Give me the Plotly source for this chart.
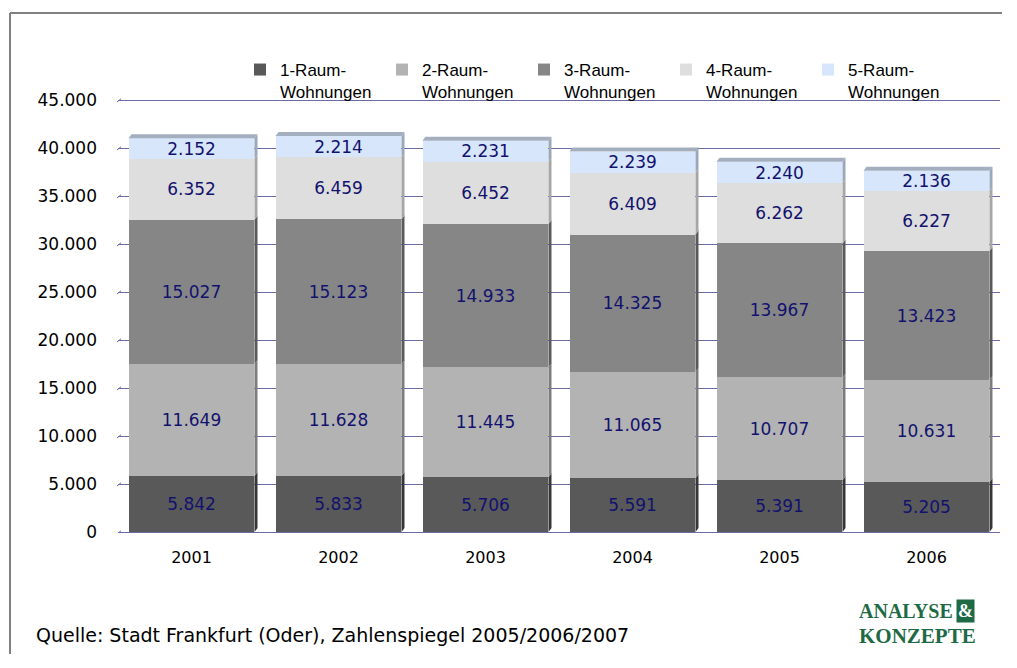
import plotly.graph_objects as go

# ---- data ----
years = ["2001", "2002", "2003", "2004", "2005", "2006"]
series_names = ["1-Raum-<br>Wohnungen", "2-Raum-<br>Wohnungen", "3-Raum-<br>Wohnungen",
                "4-Raum-<br>Wohnungen", "5-Raum-<br>Wohnungen"]
raum1 = [5842, 5833, 5706, 5591, 5391, 5205]
raum2 = [11649, 11628, 11445, 11065, 10707, 10631]
raum3 = [15027, 15123, 14933, 14325, 13967, 13423]
raum4 = [6352, 6459, 6452, 6409, 6262, 6227]
raum5 = [2152, 2214, 2231, 2239, 2240, 2136]
series_values = [raum1, raum2, raum3, raum4, raum5]
y_ticks = [0, 5000, 10000, 15000, 20000, 25000, 30000, 35000, 40000, 45000]
source_text = "Quelle: Stadt Frankfurt (Oder), Zahlenspiegel 2005/2006/2007"

# ---- styles ----
OFF = 8  # page body margin
PAGE_W, PAGE_H = 1017, 668
W, H = PAGE_W - 2 * OFF - 4, PAGE_H - 2 * OFF - 4
# plot box in page pixels (a little taller than 0..45000 so the top gridline shows)
PX_L, PX_R, PX_T, PX_B = 118, 1000, 97, 532
L, T = PX_L - OFF, PX_T - OFF
R = W - (PX_R - OFF)
B = H - (PX_B - OFF)
face_colors = ["#595959", "#b3b3b3", "#868686", "#dedede", "#d7e6fb"]
side_colors = ["#363636", "#7c7c7c", "#5a5a5a", "#a6a6a6", "#9aa8bb"]
top_color = "#a3aebf"
grid_color = "#6a6aa6"
label_color = "#12126e"
FONT = "DejaVu Sans"
bar_w = 0.857
plot_w = W - L - R
plot_h = H - T - B
ymax = 45000
ytop = ymax * plot_h / 432.0
dx = 3.0 / (plot_w / 6.0)
dy = 4.0 * ytop / plot_h


def px(xp):
    # page pixel -> paper x
    return (xp - OFF - L) / plot_w


def py(yp):
    return (H - B - (yp - OFF)) / plot_h


xs = list(range(len(years)))
fig = go.Figure()
for name, vals, col in zip(series_names, series_values, face_colors):
    fig.add_trace(go.Bar(
        x=xs, y=vals, name=name, width=bar_w,
        marker=dict(color=col, line=dict(width=0)),
        texttemplate="%{y:,d}", textposition="inside", insidetextanchor="middle",
        textangle=0,
        textfont=dict(family=FONT, size=17, color=label_color),
        hoverinfo="skip",
    ))

shapes = []
# 3D side faces and top faces, derived from data
for i in xs:
    base = 0
    xr = i + bar_w / 2
    for vals, sc in zip(series_values, side_colors):
        top = base + vals[i]
        shapes.append(dict(
            type="path", xref="x", yref="y", layer="above",
            path=f"M{xr},{base} L{xr+dx},{base+dy} L{xr+dx},{top+dy} L{xr},{top} Z",
            fillcolor=sc, line=dict(width=0)))
        base = top
    xl = i - bar_w / 2
    shapes.append(dict(
        type="path", xref="x", yref="y", layer="above",
        path=f"M{xl},{base} L{xr},{base} L{xr+dx},{base+dy} L{xl+dx},{base+dy} Z",
        fillcolor=top_color, line=dict(width=0)))

# small slanted grid ticks on the left wall
for yv in y_ticks:
    shapes.append(dict(
        type="line", xref="paper", yref="y", layer="below",
        x0=px(117), x1=px(121), y0=yv - dy * 0.5, y1=yv + dy * 0.3,
        line=dict(color=grid_color, width=1)))

# outer frame (top and left)
shapes.append(dict(type="line", xref="paper", yref="paper",
                   x0=px(10), x1=px(OFF + W - 3), y0=py(13), y1=py(13),
                   line=dict(color="#808080", width=2)))
shapes.append(dict(type="line", xref="paper", yref="paper",
                   x0=px(10), x1=px(10), y0=py(13), y1=py(OFF + H - 2),
                   line=dict(color="#808080", width=2)))

GREEN = "#1e6a44"
annotations = [
    dict(text=source_text, xref="paper", yref="paper", x=px(34), y=py(635),
         xanchor="left", yanchor="middle", showarrow=False,
         font=dict(family=FONT, size=19, color="#000000")),
    dict(text="<b>ANALYSE</b>", xref="paper", yref="paper", x=px(857), y=py(611),
         xanchor="left", yanchor="middle", showarrow=False,
         font=dict(family="Liberation Serif", size=20, color=GREEN)),
    dict(text="<b>&amp;</b>", xref="paper", yref="paper", x=px(965), y=py(611),
         xanchor="center", yanchor="middle", showarrow=False,
         bgcolor=GREEN, borderpad=1,
         font=dict(family="Liberation Serif", size=18, color="#ffffff")),
    dict(text="<b>KONZEPTE</b>", xref="paper", yref="paper", x=px(857), y=py(636),
         xanchor="left", yanchor="middle", showarrow=False,
         font=dict(family="Liberation Serif", size=21, color=GREEN)),
]

fig.update_layout(
    width=W, height=H,
    margin=dict(l=L, r=R, t=T, b=B),
    barmode="stack",
    separators=",.",
    paper_bgcolor="#ffffff", plot_bgcolor="#ffffff",
    font=dict(family=FONT, size=17, color="#000000"),
    uniformtext=dict(minsize=17, mode="show"),
    showlegend=True,
    legend=dict(orientation="h", x=px(240), y=py(52), xanchor="left", yanchor="top",
                entrywidth=97, entrywidthmode="pixels", valign="top",
                traceorder="normal",
                font=dict(family="Liberation Sans", size=17, color="#000000"),
                bgcolor="rgba(0,0,0,0)", itemclick=False),
    xaxis=dict(range=[-0.5, 5.5], tickmode="array", tickvals=xs, ticktext=years,
               showgrid=False, zeroline=False, showline=False, ticks="",
               ticklabelstandoff=14, fixedrange=True,
               tickfont=dict(family=FONT, size=16)),
    yaxis=dict(range=[0, ytop], tickmode="array", tickvals=y_ticks, tickformat=",d",
               showgrid=True, gridcolor=grid_color, gridwidth=1,
               zeroline=True, zerolinecolor=grid_color, zerolinewidth=1,
               showline=False, ticks="", ticklabelstandoff=20, fixedrange=True,
               tickfont=dict(family=FONT, size=17)),
    shapes=shapes,
    annotations=annotations,
)

fig.write_html("out.html", config={"displayModeBar": False})
